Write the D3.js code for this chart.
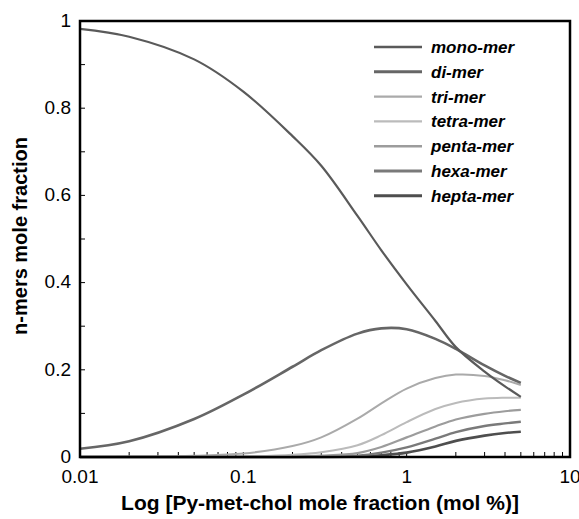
<!DOCTYPE html>
<html>
<head>
<meta charset="utf-8">
<script src="https://cdn.jsdelivr.net/npm/d3@7"></script>
<style>
  body { margin: 0; background: #fff; }
  text { font-family: "Liberation Sans", Arial, sans-serif; }
</style>
</head>
<body>
<div id="chart"></div>
<script>
// concentration points (mol %)
const conc = [0.01, 0.02, 0.05, 0.1, 0.2, 0.3, 0.5, 0.7, 1, 1.5, 2, 3, 4, 5];

// n-mer mole fractions
const mono  = [0.982, 0.964, 0.912, 0.838, 0.736, 0.668, 0.553, 0.474, 0.396, 0.312, 0.252, 0.196, 0.162, 0.138];
const di    = [0.019, 0.036, 0.087, 0.143, 0.207, 0.245, 0.283, 0.295, 0.293, 0.271, 0.248, 0.210, 0.186, 0.170];
const tri   = [0.000, 0.001, 0.003, 0.008, 0.025, 0.045, 0.088, 0.123, 0.157, 0.181, 0.189, 0.186, 0.176, 0.165];
const tetra = [0.000, 0.000, 0.000, 0.001, 0.005, 0.011, 0.027, 0.050, 0.080, 0.110, 0.124, 0.134, 0.136, 0.136];
const penta = [0.000, 0.000, 0.000, 0.000, 0.001, 0.003, 0.009, 0.023, 0.045, 0.070, 0.086, 0.099, 0.105, 0.108];
const hexa  = [0.000, 0.000, 0.000, 0.000, 0.000, 0.001, 0.003, 0.010, 0.022, 0.042, 0.057, 0.071, 0.077, 0.081];
const hepta = [0.000, 0.000, 0.000, 0.000, 0.000, 0.000, 0.001, 0.004, 0.010, 0.024, 0.037, 0.049, 0.055, 0.058];

const names = ["mono-mer", "di-mer", "tri-mer", "tetra-mer", "penta-mer", "hexa-mer", "hepta-mer"];
const seriesValues = [mono, di, tri, tetra, penta, hexa, hepta];

const yTicks = [0, 0.2, 0.4, 0.6, 0.8, 1];
const yTickLabels = ["0", "0.2", "0.4", "0.6", "0.8", "1"];
const xTicks = [0.01, 0.1, 1, 10];
const xTickLabels = ["0.01", "0.1", "1", "10"];

const colors = ["#5a5a5a", "#666666", "#aaaaaa", "#bbbbbb", "#9c9c9c", "#7a7a7a", "#4e4e4e"];
const widths = [2.2, 2.6, 2, 2, 2.2, 2.4, 2.6];

const margin = { top: 21, right: 9, bottom: 62, left: 80 },
    width = 579 - margin.left - margin.right,
    height = 519 - margin.top - margin.bottom;

const svg = d3.select("#chart")
    .append("svg")
    .attr("width", 579)
    .attr("height", 519)
    .append("g")
    .attr("transform", `translate(${margin.left},${margin.top})`);

const x = d3.scaleLog().domain([0.01, 10]).range([0, width]);
const y = d3.scaleLinear().domain([0, 1]).range([height, 0]);

// minor ticks, drawn inside the frame
const xMinor = [];
[0.01, 0.1, 1].forEach(d => { for (let k = 1; k <= 9; k++) xMinor.push(d * k); });
svg.append("g")
    .selectAll("line")
    .data(xMinor)
    .join("line")
    .attr("x1", d => x(d)).attr("x2", d => x(d))
    .attr("y1", height).attr("y2", height - 5)
    .attr("stroke", "#000").attr("stroke-width", 1);

svg.append("g")
    .selectAll("line")
    .data(d3.range(0, 11).map(i => i / 10))
    .join("line")
    .attr("x1", 0).attr("x2", 5)
    .attr("y1", d => y(d)).attr("y2", d => y(d))
    .attr("stroke", "#000").attr("stroke-width", 1);

// curves
const line = d3.line()
    .x(d => x(d[0]))
    .y(d => y(d[1]))
    .curve(d3.curveCatmullRom.alpha(0.5));

svg.append("g")
    .selectAll("path")
    .data(seriesValues.map((vals, i) => ({ i, pts: conc.map((c, j) => [c, vals[j]]) })).reverse())
    .join("path")
    .attr("fill", "none")
    .attr("stroke", d => colors[d.i])
    .attr("stroke-width", d => widths[d.i])
    .attr("d", d => line(d.pts));

// frame
svg.append("rect")
    .attr("x", 0).attr("y", 0)
    .attr("width", width).attr("height", height)
    .attr("fill", "none")
    .attr("stroke", "#000")
    .attr("stroke-width", 2.5);

// tick labels
svg.append("g")
    .selectAll("text")
    .data(yTicks)
    .join("text")
    .attr("x", -9)
    .attr("y", d => y(d))
    .attr("dy", "0.3em")
    .attr("text-anchor", "end")
    .attr("font-size", 19)
    .text((d, i) => yTickLabels[i]);

svg.append("g")
    .selectAll("text")
    .data(xTicks)
    .join("text")
    .attr("x", d => x(d))
    .attr("y", height + 26)
    .attr("text-anchor", "middle")
    .attr("font-size", 19)
    .text((d, i) => xTickLabels[i]);

// legend
const legend = svg.selectAll(".legend")
    .data(names)
    .join("g")
    .attr("class", "legend")
    .attr("transform", (d, i) => `translate(0,${26 + i * 24.8})`);

legend.append("line")
    .attr("x1", 294).attr("x2", 342)
    .attr("y1", 0).attr("y2", 0)
    .attr("stroke", (d, i) => colors[i])
    .attr("stroke-width", (d, i) => widths[i] + 0.4);

legend.append("text")
    .attr("x", 351)
    .attr("y", 0)
    .attr("dy", "0.35em")
    .attr("font-size", 17)
    .attr("font-weight", "bold")
    .attr("font-style", "italic")
    .text(d => d);

// axis titles
svg.append("text")
    .attr("x", 320 - margin.left)
    .attr("y", height + 53)
    .attr("text-anchor", "middle")
    .attr("font-size", 21)
    .attr("font-weight", "bold")
    .text("Log [Py-met-chol mole fraction (mol %)]");

svg.append("text")
    .attr("transform", "rotate(-90)")
    .attr("x", -(236 - margin.top))
    .attr("y", 27 - margin.left)
    .attr("text-anchor", "middle")
    .attr("font-size", 20)
    .attr("font-weight", "bold")
    .text("n-mers mole fraction");
</script>
</body>
</html>
